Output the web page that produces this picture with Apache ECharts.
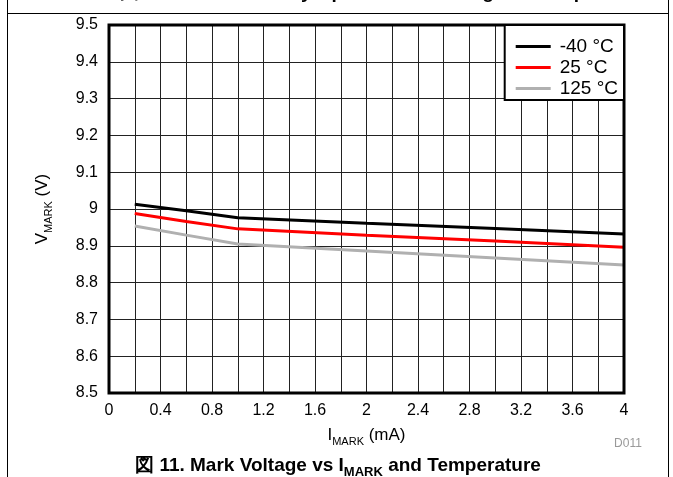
<!DOCTYPE html>
<html>
<head>
<meta charset="utf-8">
<script src="https://cdn.jsdelivr.net/npm/echarts@6/dist/echarts.min.js"></script>
<style>
html,body{margin:0;padding:0;background:#fff;}
#chart{width:673px;height:477px;}
</style>
</head>
<body>
<div id="chart"></div>
<script>
// Data
const seriesNames = ['-40 °C', '25 °C', '125 °C'];
const currentMA = [0.2, 0.6, 1.0, 2.0, 3.0, 4.0];
const vMinus40 = [9.013, 8.995, 8.976, 8.961, 8.947, 8.932];
const v25 = [8.988, 8.966, 8.946, 8.929, 8.913, 8.896];
const v125 = [8.954, 8.929, 8.905, 8.886, 8.867, 8.848];
const seriesColors = ['#000000', '#ff0000', '#b0b0b0'];

const chart = echarts.init(document.getElementById('chart'), null, {renderer: 'canvas'});
const font = 'Liberation Sans, Arial, sans-serif';

function pairs(xs, ys) { return xs.map((x, i) => [x, ys[i]]); }

const seriesData = [vMinus40, v25, v125];

const option = {
  backgroundColor: '#fff',
  animation: false,
  textStyle: {fontFamily: font},
  grid: {left: 109, right: 49, top: 25, bottom: 84, show: true, borderColor: '#000', borderWidth: 3, backgroundColor: 'transparent', z: 5},
  legend: {
    data: seriesNames,
    orient: 'vertical',
    right: 49, top: 25,
    backgroundColor: '#fff',
    borderColor: '#000', borderWidth: 2, borderRadius: 0,
    padding: [12, 6, 2, 11],
    itemGap: 2,
    itemWidth: 35, itemHeight: 3,
    icon: 'rect',
    textStyle: {fontSize: 19, color: '#000', fontFamily: font, padding: [0, 0, 0, 4]},
    z: 10
  },
  xAxis: {
    type: 'value', min: 0, max: 4, interval: 0.4,
    name: '{n|I}{s|MARK}{n| (mA)}',
    nameLocation: 'middle', nameGap: 34,
    nameTextStyle: {rich: {n: {fontSize: 17, color: '#000', fontFamily: font}, s: {fontSize: 11, color: '#000', fontFamily: font, verticalAlign: 'bottom', padding: [0,0,-3,0]}}},
    axisLine: {show: false}, axisTick: {show: false},
    axisLabel: {fontSize: 16, color: '#000', margin: 10, fontFamily: font},
    splitLine: {show: true, lineStyle: {color: '#222', width: 1}},
    minorTick: {show: false, splitNumber: 2},
    minorSplitLine: {show: true, lineStyle: {color: '#222', width: 1}}
  },
  yAxis: {
    type: 'value', min: 8.5, max: 9.5, interval: 0.1,
    name: '{n|V}{s|MARK}{n| (V)}',
    nameLocation: 'middle', nameGap: 58, nameRotate: 90,
    nameTextStyle: {rich: {n: {fontSize: 17, color: '#000', fontFamily: font}, s: {fontSize: 11, color: '#000', fontFamily: font, verticalAlign: 'bottom', padding: [0,0,-3,0]}}},
    axisLine: {show: false}, axisTick: {show: false},
    axisLabel: {fontSize: 16, color: '#000', margin: 11, fontFamily: font},
    splitLine: {show: true, lineStyle: {color: '#222', width: 1}}
  },
  series: seriesNames.map((n, i) => ({
    name: n, type: 'line', data: pairs(currentMA, seriesData[i]),
    showSymbol: false, symbol: 'none',
    lineStyle: {color: seriesColors[i], width: 3},
    itemStyle: {color: seriesColors[i]},
    z: 3 - i
  })).reverse(),
  graphic: [
    {type: 'line', shape: {x1: 7.5, y1: 0, x2: 7.5, y2: 477}, style: {stroke: '#000', lineWidth: 1}},
    {type: 'line', shape: {x1: 668.5, y1: 0, x2: 668.5, y2: 477}, style: {stroke: '#000', lineWidth: 1}},
    {type: 'line', shape: {x1: 7, y1: 13.5, x2: 669, y2: 13.5}, style: {stroke: '#000', lineWidth: 1}},
    {type: 'text', x: 385, y: -7, style: {text: '図 10. Mark Recovery Open-Circuit Voltage vs Temperature', font: 'bold 19px ' + font, fill: '#000', align: 'center', verticalAlign: 'middle'}},
    {type: 'text', x: 628, y: 444, style: {text: 'D011', font: '12px ' + font, fill: '#999', align: 'center', verticalAlign: 'middle'}},
    {type: 'text', x: 338, y: 466, style: {
      text: '{b|図 11. Mark Voltage vs I}{s|MARK}{b| and Temperature}',
      align: 'center', verticalAlign: 'middle',
      rich: {b: {font: 'bold 19px ' + font, fill: '#000'}, s: {font: 'bold 13px ' + font, fill: '#000', verticalAlign: 'bottom', padding: [0,0,-3,0]}}
    }}
  ]
};
chart.setOption(option);
</script>
</body>
</html>
